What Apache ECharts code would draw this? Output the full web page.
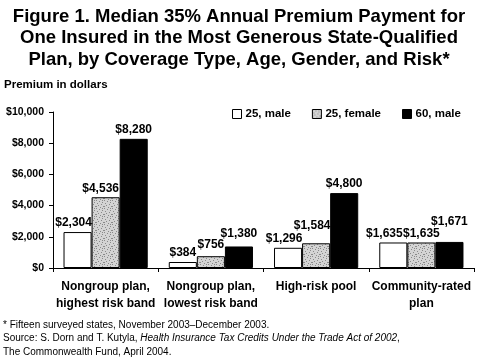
<!DOCTYPE html>
<html><head><meta charset="utf-8">
<script src="https://cdn.jsdelivr.net/npm/echarts@6/dist/echarts.min.js"></script>
<style>html,body{margin:0;padding:0;background:#fff}#c{width:478px;height:358px}</style>
</head><body><div id="c"></div>
<script>
const categories = ['Nongroup plan,\nhighest risk band', 'Nongroup plan,\nlowest risk band', 'High-risk pool', 'Community-rated\nplan'];
const seriesNames = ['25, male', '25, female', '60, male'];
const male25 = [2304, 384, 1296, 1635];
const female25 = [4536, 756, 1584, 1635];
const male60 = [8280, 1380, 4800, 1671];
const yTicks = [0, 2000, 4000, 6000, 8000, 10000];

// label nudges (pixels) to keep labels from colliding, as in the reference
const labelOffsets = [
  [[-4,0],[0,0],[-4,0],[-9,0]],
  [[-5,0],[0,-3],[-4,-9],[0,0]],
  [[0,0],[0,-4],[0,0],[0,-11]]
];

function stipple() {
  const c = document.createElement('canvas');
  c.width = 8; c.height = 8;
  const g = c.getContext('2d');
  g.fillStyle = '#d4d4d4'; g.fillRect(0, 0, 8, 8);
  g.fillStyle = '#8a8a8a';
  const pts = [[0,0],[3,1],[6,2],[1,3],[5,4],[2,5],[7,6],[4,7],[6,0],[0,6]];
  pts.forEach(p => g.fillRect(p[0], p[1], 1, 1));
  return c;
}
const pat = { image: stipple(), repeat: 'repeat' };

const chart = echarts.init(document.getElementById('c'), null, {renderer: 'canvas'});
const fmt = v => '$' + v.toLocaleString('en-US');
const lbl = {show: true, position: 'top', distance: 3, fontFamily: 'Liberation Sans', fontWeight: 'bold', fontSize: 12, color: '#000', formatter: p => fmt(p.value)};
const colors = ['#ffffff', pat, '#000000'];
const data = [male25, female25, male60];
chart.setOption({
  animation: false,
  title: [
    {text: 'Figure 1. Median 35% Annual Premium Payment for\nOne Insured in the Most Generous State-Qualified\nPlan, by Coverage Type, Age, Gender, and Risk*', left: 'center', top: 1,
     textStyle: {fontFamily: 'Liberation Sans', fontWeight: 'bold', fontSize: 18.5, lineHeight: 21.5, color: '#000'}},
    {text: 'Premium in dollars', left: -1, top: 74, textStyle: {fontFamily: 'Liberation Sans', fontWeight: 'bold', fontSize: 11.5, color: '#000'}},
    {text: '* Fifteen surveyed states, November 2003\u2013December 2003.\nSource: S. Dorn and T. Kutyla, {i|Health Insurance Tax Credits Under the Trade Act of 2002},\nThe Commonwealth Fund, April 2004.', left: -2, top: 313,
     textStyle: {fontFamily: 'Liberation Sans', fontWeight: 'normal', fontSize: 10, lineHeight: 13.5, color: '#000', rich: {i: {fontStyle: 'italic', fontFamily: 'Liberation Sans', fontSize: 10, lineHeight: 13.5, color: '#000'}}}}
  ],
  legend: {
    top: 103, left: 227, itemWidth: 9, itemHeight: 9, itemGap: 21, selectedMode: false, icon: 'rect',
    textStyle: {fontFamily: 'Liberation Sans', fontWeight: 'bold', fontSize: 11.5, color: '#000', padding: [0,0,0,-1]},
    data: seriesNames.map(n => ({name: n, itemStyle: {borderColor: '#000', borderWidth: 1}}))
  },
  grid: {left: 53, right: 4, top: 112, bottom: 90, containLabel: false},
  xAxis: {
    type: 'category', data: categories,
    axisLine: {lineStyle: {color: '#000', width: 1}},
    axisTick: {show: true, length: 4, lineStyle: {color: '#000'}},
    axisLabel: {fontFamily: 'Liberation Sans', fontWeight: 'bold', fontSize: 12, color: '#000', lineHeight: 17, margin: 10, interval: 0}
  },
  yAxis: {
    type: 'value', min: 0, max: 10000, interval: 2000,
    axisLine: {show: true, lineStyle: {color: '#000'}},
    axisTick: {show: true, length: 4, lineStyle: {color: '#000'}},
    splitLine: {show: false},
    axisLabel: {fontFamily: 'Liberation Sans', fontWeight: 'bold', fontSize: 10.5, color: '#000', margin: 9, formatter: v => yTicks.includes(v) ? fmt(v) : ''}
  },
  series: seriesNames.map((n, i) => ({
    name: n, type: 'bar', barGap: '0%', barCategoryGap: '20%',
    data: data[i].map((v, j) => ({value: v, label: {offset: labelOffsets[i][j]}})),
    itemStyle: {color: colors[i], borderColor: '#000', borderWidth: 1},
    label: lbl
  }))
});
</script></body></html>
